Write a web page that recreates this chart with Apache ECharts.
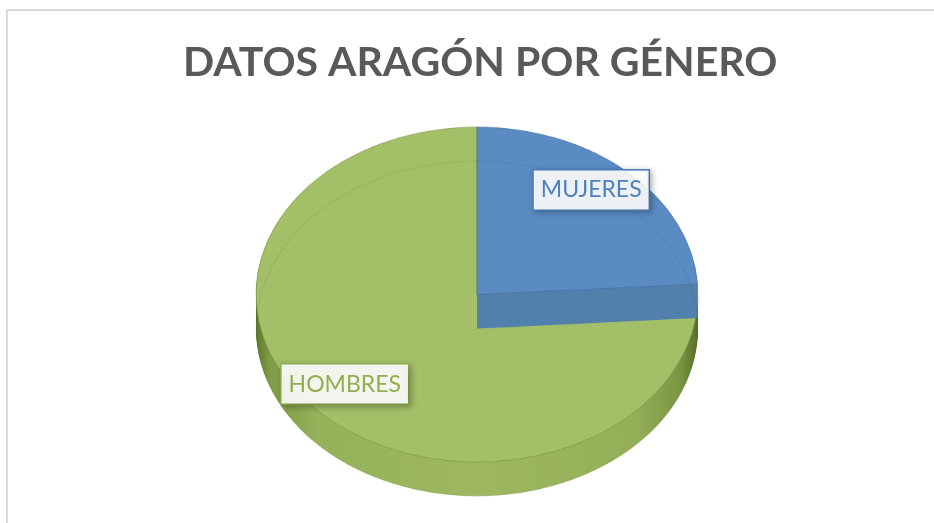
<!DOCTYPE html>
<html>
<head>
<meta charset="utf-8">
<script src="https://cdn.jsdelivr.net/npm/echarts@6/dist/echarts.min.js"></script>
<style>
  html, body { margin: 0; padding: 0; background: #ffffff; }
  #wrap { position: relative; width: 934px; height: 523px; overflow: hidden; background: #ffffff; }
  #frame { position: absolute; left: 6px; top: 9px; width: 1000px; height: 1000px; border-left: 2px solid #d9d9d9; border-top: 2px solid #d9d9d9; box-sizing: border-box; }
  #shape { position: absolute; left: 0; top: 0; width: 934px; transform-origin: 0 0; }
  #over { position: absolute; left: 0; top: 0; width: 934px; height: 523px; }
</style>
</head>
<body>
<div id="wrap">
  <div id="frame"></div>
  <div id="shape"></div>
  <div id="over"></div>
</div>
<script>
// ---- data ----
const titleText = 'DATOS ARAGÓN POR GÉNERO';
const categories = ['MUJERES', 'HOMBRES'];
const values = [24, 76];
const topColors = ['#5b8bc3', '#a3bf68'];
const labelColors = ['#4f81bd', '#8fb04f'];

// ---- geometry / style ----
const K = 0.758;          // vertical squash of the tilted pie
const CX = 477, CY = 294.5, R = 221;
const DEPTH = 34;         // visible thickness in screen px
const LAYERS = 18;

const shapeEl = document.getElementById('shape');
shapeEl.style.height = (523 / K) + 'px';
shapeEl.style.transform = 'scaleY(' + K + ')';

const cyA = CY / K, depthA = DEPTH / K;

const greenSide = {
  type: 'linear', x: 0, y: 0, x2: 1, y2: 0,
  colorStops: [
    { offset: 0, color: '#5c772a' },
    { offset: 0.03, color: '#7f9b46' },
    { offset: 0.14, color: '#95b15a' },
    { offset: 0.5, color: '#9db861' },
    { offset: 0.86, color: '#93af58' },
    { offset: 0.96, color: '#7a9642' },
    { offset: 1, color: '#566f26' }
  ]
};
const blueSide = '#5280ad';

function pieLayer(which, color, offset, z, border) {
  return {
    type: 'pie',
    radius: R,
    center: [CX, cyA + offset],
    startAngle: 90,
    clockwise: true,
    silent: true,
    z: z,
    label: { show: false },
    labelLine: { show: false },
    emphasis: { disabled: true },
    data: categories.map((c, j) => ({
      name: c,
      value: values[j],
      itemStyle: j === which
        ? { color: color, borderWidth: border ? 1 : 0, borderColor: border || 'transparent' }
        : { color: 'rgba(0,0,0,0)', borderWidth: 0 }
    }))
  };
}

const shapeSeries = [];
for (let i = LAYERS; i >= 1; i--) shapeSeries.push(pieLayer(1, greenSide, depthA * i / LAYERS, 1));
shapeSeries.push(pieLayer(1, topColors[1], 0, 2, 'rgba(110,135,60,0.55)'));
for (let i = LAYERS; i >= 1; i--) shapeSeries.push(pieLayer(0, blueSide, depthA * i / LAYERS, 3));
shapeSeries.push(pieLayer(0, topColors[0], 0, 4, 'rgba(65,105,160,0.6)'));

const shapeChart = echarts.init(shapeEl, null, { renderer: 'canvas' });
shapeChart.setOption({
  animation: false,
  series: shapeSeries,
  graphic: [{
    type: 'circle', z: 10, silent: true,
    shape: { cx: CX, cy: cyA + depthA, r: R },
    style: { fill: 'none', stroke: 'rgba(40,60,20,0.10)', lineWidth: 1 }
  }]
});

// ---- overlay: title and labels ----
const LCX = 468, LCY = 287;
const overChart = echarts.init(document.getElementById('over'), null, { renderer: 'canvas' });
overChart.setOption({
  animation: false,
  title: {
    text: titleText,
    left: 183,
    top: 42,
    padding: 0,
    textStyle: { fontFamily: 'Lato', fontWeight: 'bold', fontSize: 41, color: '#595959' }
  },
  series: [{
    type: 'pie',
    radius: 2 * 177,
    center: [LCX, LCY],
    startAngle: 90,
    clockwise: true,
    silent: true,
    itemStyle: { color: 'rgba(0,0,0,0)', borderWidth: 0 },
    labelLine: { show: false },
    label: {
      show: true,
      position: 'inside',
      formatter: '{b}',
      fontFamily: 'Lato',
      fontSize: 23,
      backgroundColor: 'rgba(255,255,255,0.9)',
      borderWidth: 1.5,
      padding: [8, 7, 8, 7],
      shadowBlur: 6,
      shadowColor: 'rgba(0,0,0,0.25)',
      shadowOffsetX: 2,
      shadowOffsetY: 2
    },
    labelLayout: function (p) {
      const r = p.labelRect;
      const x = r.x + r.width / 2, y = r.y + r.height / 2;
      return { x: x, y: LCY + (y - LCY) * 0.74, align: 'center', verticalAlign: 'middle' };
    },
    data: categories.map((c, j) => ({
      name: c,
      value: values[j],
      itemStyle: { color: 'rgba(0,0,0,0)' },
      label: { color: labelColors[j], borderColor: labelColors[j] }
    }))
  }]
});
</script>
</body>
</html>
